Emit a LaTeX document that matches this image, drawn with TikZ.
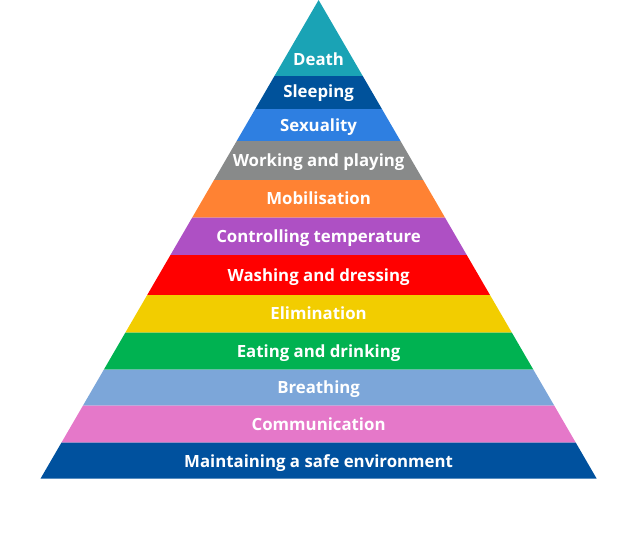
\documentclass[tikz,border=0pt]{standalone}
\usepackage{fontspec}
\setmainfont{Open Sans}
\definecolor{deathcol}{HTML}{1AA3B5}
\definecolor{sleepcol}{HTML}{00529B}
\definecolor{sexcol}{HTML}{2E7FE1}
\definecolor{workcol}{HTML}{888A8A}
\definecolor{mobcol}{HTML}{FF8233}
\definecolor{tempcol}{HTML}{AE50C4}
\definecolor{washcol}{HTML}{FF0000}
\definecolor{elimcol}{HTML}{F2CD00}
\definecolor{eatcol}{HTML}{00B251}
\definecolor{breathcol}{HTML}{7CA6D9}
\definecolor{commcol}{HTML}{E578C9}
\definecolor{safecol}{HTML}{00519E}
\tikzset{
    tier/.style={
           fill=#1,
           draw=none,
           },
    tiertext/.style={
           text=white,
           font=\bfseries\fontsize{16.8}{19}\selectfont,
           inner sep=0pt,
           anchor=base,
           },
}

\begin{document}
\begin{tikzpicture}[x=1pt,y=-1pt]
  \useasboundingbox (0,0) rectangle (640,550);
  \foreach \t/\b/\m/\col/\txt [count=\i] in {
      0/76/65.7/deathcol/Death,
      76/109/97.3/sleepcol/Sleeping,
      109/141/131/sexcol/Sexuality,
      141/180/166.5/workcol/Working and playing,
      180/217.7/204.9/mobcol/Mobilisation,
      217.7/255/242.3/tempcol/Controlling temperature,
      255/295/281/washcol/Washing and dressing,
      295/332.7/319.9/elimcol/Elimination,
      332.7/369.5/357/eatcol/Eating and drinking,
      369.5/405.7/393.6/breathcol/Breathing,
      405.7/442.7/430.2/commcol/Communication,
      442.7/478.5/467.7/safecol/Maintaining a safe environment}
  {
    % one band of the pyramid
    \fill[tier=\col] ({318.6-0.581*\t},\t) -- ({318.6+0.581*\t},\t)
         -- ({318.6+0.581*\b},\b) -- ({318.6-0.581*\b},\b) -- cycle;
    \node[tiertext] (tier-\i) at (318.6,\m) {\txt};
  }
\end{tikzpicture}
\end{document}
